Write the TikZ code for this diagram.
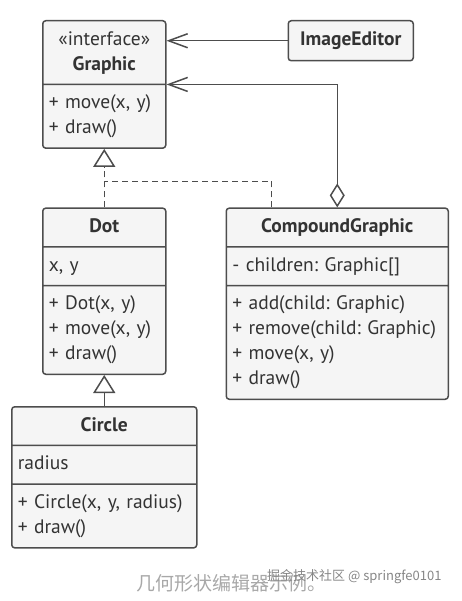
\documentclass[tikz,border=0pt]{standalone}
\usepackage{fontspec}
\setmainfont{PT Sans}
\newfontfamily\cjkfont{Noto Sans CJK SC}
\usepackage{xcolor}
\usetikzlibrary{arrows.meta,positioning,shapes.multipart}
\frenchspacing

\definecolor{umlline}{HTML}{4D4D4D}
\definecolor{umlfill}{HTML}{F5F5F5}
\definecolor{umltext}{HTML}{333333}
\definecolor{wmark}{HTML}{A8A8A8}

% centred line inside a class header
\newcommand{\umlhead}[1]{\strut\hfill#1\hfill\null}

\begin{document}
\begin{tikzpicture}[
    x=1pt, y=-1pt,
    umlclass/.style={rectangle split, rectangle split parts=#1, draw=umlline, fill=umlfill,
      line width=1.5pt, rounded corners=3pt, inner xsep=6pt, inner ysep=6.1pt,
      align=left, text=umltext, font=\fontsize{19.5}{25}\selectfont},
    umlbox/.style={rectangle, draw=umlline, fill=umlfill, line width=1.5pt, rounded corners=3pt,
      minimum width=125pt, minimum height=40pt, text=umltext, font=\fontsize{19.5}{25}\selectfont\bfseries},
    assoc/.style={-{Straight Barb[length=19pt,width=14pt,line width=1.5pt]}, umlline, line width=1.5pt},
    inherit/.style={-{Triangle[length=18pt,width=22pt,fill=white,line width=1.5pt]}, umlline, line width=1.5pt},
    realize/.style={inherit, dash pattern=on 6pt off 4pt},
    aggr/.style={{Diamond[length=24pt,width=15pt,fill=white,line width=1.5pt]}-{Straight Barb[length=19pt,width=14pt,line width=1.5pt]}, umlline, line width=1.5pt},
  ]
  \useasboundingbox (0,0) rectangle (461,601);

  % Interface
  \node[umlclass=2, text width=111pt, anchor=north west] (graphic) at (42,20)
    {\umlhead{«interface»}\\\umlhead{\textbf{Graphic}}
     \nodepart{two}\strut+ move(x, y)\\\strut+ draw()};

  % Client
  \node[umlbox, right=121pt of graphic.north east, anchor=north west] (editor) {ImageEditor};

  % Leaf classes
  \node[umlclass=3, text width=111pt, below=58.5pt of graphic] (dot)
    {\umlhead{\textbf{Dot}}
     \nodepart{two}\strut x, y
     \nodepart{three}\strut+ Dot(x, y)\\\strut+ move(x, y)\\\strut+ draw()};
  \node[umlclass=3, text width=173pt, below=31pt of dot] (circle)
    {\umlhead{\textbf{Circle}}
     \nodepart{two}\strut radius
     \nodepart{three}\strut+ Circle(x, y, radius)\\\strut+ draw()};

  % Composite
  \node[umlclass=3, text width=210pt, right=59pt of dot.north east, anchor=north west] (compound)
    {\umlhead{\textbf{CompoundGraphic}}
     \nodepart{two}\strut- children: Graphic[]
     \nodepart{three}\strut+ add(child: Graphic)\\\strut+ remove(child: Graphic)\\\strut+ move(x, y)\\\strut+ draw()};

  % Caption / watermark
  \node[font=\cjkfont\fontsize{19}{19}\selectfont, text=wmark, anchor=west, inner sep=0pt] (caption) at (136,583) {几何形状编辑器示例。};
  \node[font=\cjkfont\fontsize{13}{13}\selectfont, text=wmark!80!black, anchor=west, inner sep=0pt] (credit) at (267,577) {掘金技术社区 @ springfe0101};

  % Relations
  \coordinate (join) at ([yshift=26pt]dot.north);
  \draw[assoc] (editor.west) -- (editor.west -| graphic.east);
  \draw[aggr] (compound.north) |- (graphic.east);
  \draw[realize] (dot.north) -- (graphic.south);
  \draw[umlline, line width=1.5pt, dash pattern=on 6pt off 4pt] ([xshift=46pt]compound.north west) |- (join);
  \draw[inherit] (circle.north) -- (dot.south);
\end{tikzpicture}
\end{document}
